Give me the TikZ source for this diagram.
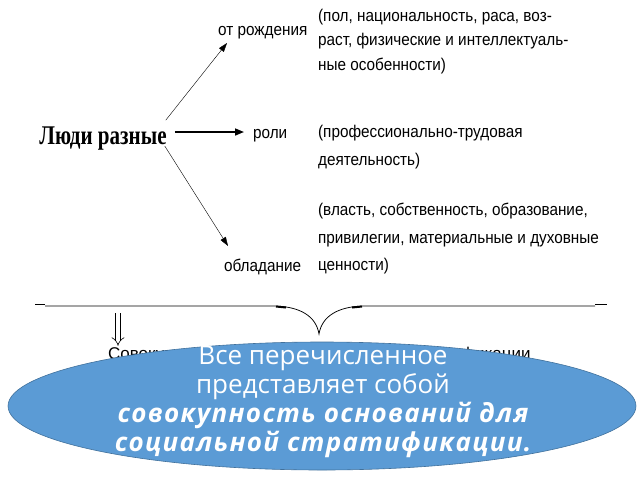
\documentclass[tikz,border=0pt]{standalone}
\usepackage{fontspec}
\setmainfont{Liberation Serif}
\newfontfamily\narrowfont[FakeStretch=0.9]{Liberation Sans}
\newfontfamily\titlefont[FakeStretch=0.78]{Liberation Serif}
\newfontfamily\ovalfont{Open Sans}
\newfontfamily\ovalboldfont[LetterSpace=5]{Open Sans}
\usetikzlibrary{arrows.meta,shapes.geometric}
\definecolor{ovalblue}{RGB}{91,155,213}
\definecolor{ovalborder}{RGB}{65,113,156}
\tikzset{every picture/.style={line width=0.75pt}}
\tikzset{
  narrowtext/.style={inner sep=0.75pt, font=\narrowfont\fontsize{17}{24.5}\selectfont},
  thinarrow/.style={line width=0.4pt, -{Triangle[length=9pt,width=6pt]}},
}

\begin{document}
\begin{tikzpicture}[x=1pt,y=1pt,yscale=-1,xscale=1]
\useasboundingbox (0,0) rectangle (640,480);

% Text Node
\node (people) at (103,139) [inner sep=0.75pt, font=\titlefont\fontsize{27}{30}\selectfont\bfseries] {Люди разные};
% Text Node
\node (birth) at (217,33) [anchor=west, narrowtext] {от рождения};
% Text Node
\node (roles) at (252,136) [anchor=west, narrowtext] {роли};
% Text Node
\node (owning) at (223,267) [anchor=west, narrowtext] {обладание};

% Text Node
\node (birthtext) at (317,8) [anchor=north west, narrowtext, align=left] {(пол, национальность, раса, воз-\\раст, физические и интеллектуаль-\\ные особенности)};
% Text Node
\node (rolestext) at (317,124) [anchor=north west, narrowtext, align=left, font=\narrowfont\fontsize{17}{28.5}\selectfont] {(профессионально-трудовая\\деятельность)};
% Text Node
\node (owningtext) at (317,202) [anchor=north west, narrowtext, align=left, font=\narrowfont\fontsize{17}{27.5}\selectfont] {(власть, собственность, образование,\\привилегии, материальные и духовные\\ценности)};

%Straight Lines
\coordinate (birthtip) at (227,43);
\coordinate (rolestip) at (244,132);
\coordinate (owningtip) at (228,246);
\draw [thinarrow] ([xshift=-2pt,yshift=-6pt]people.north east) -- (birthtip);
\draw [line width=1.6pt, -{Triangle[length=9pt,width=7pt]}] ([xshift=7pt,yshift=-7pt]people.east) -- (rolestip);
\draw [thinarrow] ([xshift=-3pt,yshift=7pt]people.east) -- (owningtip);

%Shape: Brace
\draw (35,304) -- (45,304) ;
\draw (45,306) -- (276,306) .. controls (300,307) and (316,316) .. (319,334) .. controls (322,316) and (338,307) .. (362,306) -- (595,306) ;
\draw (595,304) -- (607,304) ;
\draw [line width=2pt] (276,306.5) -- (286,307.5) ;
\draw [line width=2pt] (352,307.5) -- (362,306.5) ;

% Text Node
\node (total) at (107,355) [anchor=west, inner sep=0.75pt, font=\sffamily\fontsize{17}{20}\selectfont] {\fontspec{Liberation Sans}Совокупность оснований социальной стратификации};
%Double arrow
\coordinate (implstart) at (118,313);
\draw [line width=0.6pt, double distance=4pt, -{Implies}] (implstart) -- (total.north -| implstart) ;

%Shape: Ellipse
\node (summary) at (322,406) [ellipse, fill=ovalblue, draw=ovalborder, line width=0.6pt, minimum width=628pt, minimum height=128pt, inner sep=0pt] {};
% Text Node
\node (summarytext) at ([xshift=1pt,yshift=-4pt]summary.center) [inner sep=0pt, text=white, align=center, font=\ovalfont\fontsize{26}{29}\selectfont] {Все перечисленное\\представляет собой\\{\ovalboldfont\bfseries\itshape совокупность оснований для}\\{\ovalboldfont\bfseries\itshape социальной стратификации.}};

\end{tikzpicture}
\end{document}
